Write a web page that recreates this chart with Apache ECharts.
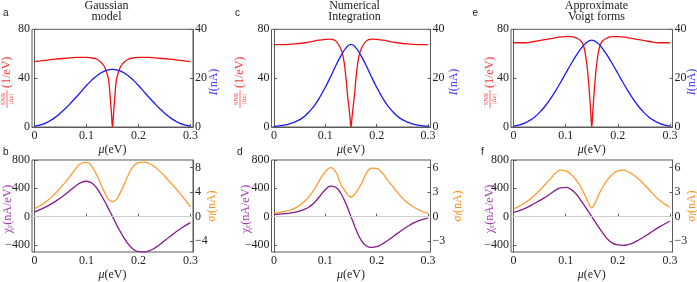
<!DOCTYPE html>
<html>
<head>
<meta charset="utf-8">
<script src="https://cdn.jsdelivr.net/npm/echarts@6/dist/echarts.min.js"></script>
<style>html,body{margin:0;padding:0;background:#fff;}#c{width:697px;height:282px;}</style>
</head>
<body>
<div id="c"></div>
<script>
// ---------- data ----------
const panelTitles = ['Gaussian\nmodel', 'Numerical\nIntegration', 'Approximate\nVoigt forms'];
const panelLetters = ['a', 'b', 'c', 'd', 'e', 'f'];
const xTicks = [0, 0.1, 0.2, 0.3];
const yTopLeftTicks = [0, 40, 80];
const yTopRightTicks = [0, 20, 40];
const yBotLeftTicks = [-400, 0, 400, 800];
const yBotRightTicksB = [-4, 0, 4, 8];
const yBotRightTicksDF = [-3, 0, 3, 6];

// SNR/|Δε| curves (top row, left axis)
const xSnr = [0,0.02,0.04,0.06,0.08,0.10,0.11,0.12,0.13,0.135,0.14,0.143,0.146,0.148,0.15,0.152,0.154,0.157,0.16,0.165,0.17,0.18,0.19,0.20,0.22,0.24,0.26,0.28,0.30];
const snrA = [53.5,54.5,55.5,56.3,57,57,56.5,55.5,52,49,43,37,22,11,0,11,22,37,43,49,52,55.5,56.5,57,57,56.3,55.5,54.5,53.5];
const snrC = [67.5,67.5,68,69,70.5,71.8,72,70.5,64,57,41,27,16,8,0,8,16,27,41,57,64,70.5,72,71.8,70.5,69,68,67.5,67.5];
const snrE = [69,69,70,71.5,73,74,74,73,70,65.5,53,41,25,12.5,0,12.5,25,41,53,65.5,70,73,74,74,73,71.5,70,69,69];

// I (nA) curves (top row, right axis)
const xI = [0,0.01,0.02,0.03,0.04,0.05,0.06,0.07,0.08,0.09,0.10,0.11,0.12,0.13,0.14,0.15,0.16,0.17,0.18,0.19,0.20,0.21,0.22,0.23,0.24,0.25,0.26,0.27,0.28,0.29,0.30];
const iA = [0.4,0.8,1.5,2.6,4.0,5.7,7.7,9.9,12.2,14.6,17.0,19.2,21.0,22.4,23.3,23.6,23.3,22.4,21.0,19.2,17.0,14.6,12.2,9.9,7.7,5.7,4.0,2.6,1.5,0.8,0.4];
const iC = [0.3,0.5,0.8,1.3,2.0,3.0,4.5,6.6,9.2,12.5,16.3,20.5,25,29,32.3,33.8,32.3,29,25,20.5,16.3,12.5,9.2,6.6,4.5,3.0,2.0,1.3,0.8,0.5,0.3];
const iE = [0.4,0.8,1.5,2.6,4.0,6.0,8.4,11.3,14.6,18.2,22.0,25.7,29.2,32.3,34.6,35.6,34.6,32.3,29.2,25.7,22.0,18.2,14.6,11.3,8.4,6.0,4.0,2.6,1.5,0.8,0.4];

// χε (nA/eV) and σI (nA) curves (bottom row)
const xB = [0,0.02,0.04,0.06,0.07,0.08,0.09,0.10,0.11,0.12,0.13,0.14,0.145,0.15,0.155,0.16,0.17,0.18,0.19,0.20,0.21,0.22,0.23,0.24,0.26,0.28,0.30];
const chiB = [66,130,215,320,380,440,485,500,475,400,280,145,72,0,-72,-145,-275,-385,-460,-495,-500,-485,-450,-400,-285,-175,-85];
const sigB = [1.3,2.3,3.8,5.7,6.8,7.9,8.7,8.85,8.2,6.7,4.8,3.1,2.6,2.45,2.6,3.1,4.8,6.7,8.2,8.8,8.9,8.7,8.2,7.5,5.7,3.8,1.6];
const chiD = [30,42,60,105,145,210,295,380,432,415,330,185,95,0,-95,-190,-335,-415,-435,-425,-390,-345,-295,-240,-140,-65,-22];
const sigD = [0.4,0.65,1.0,1.9,2.6,3.5,4.6,5.5,6.0,5.5,4.0,3.0,2.6,2.4,2.6,3.0,4.0,5.3,5.95,5.9,5.4,4.6,3.8,3.0,1.7,0.9,0.4];
const chiF = [60,110,185,270,320,370,405,412,385,320,220,112,56,0,-56,-112,-220,-315,-375,-400,-405,-395,-370,-330,-240,-145,-66];
const sigF = [0.95,1.6,2.6,3.9,4.6,5.3,5.7,5.6,5.2,4.5,3.5,2.2,1.5,1.05,1.5,2.2,3.5,4.5,5.2,5.6,5.7,5.5,5.1,4.6,3.3,2.0,1.15];

// ---------- styling ----------
const SERIF = '"Liberation Serif","DejaVu Serif",serif';
const SANS = '"Liberation Sans","DejaVu Sans",sans-serif';
const FRAME = '#5a5a5a';
const TXT = '#222222';
const RED = '#f21010', BLUE = '#1a1af2', PURPLE = '#861a8c', ORANGE = '#ff9b2f';
const RED_T = '#ff3535', BLUE_T = '#3a3aff', PURPLE_T = '#a53ab2', ORANGE_T = '#ff8c1a';

const cols = [{left: 32, width: 161}, {left: 271.5, width: 159}, {left: 511, width: 161.5}];
const rows = [{top: 29.3, height: 97.7}, {top: 160, height: 98.5}];

const zip = (xs, ys) => xs.map((x, i) => [x, ys[i]]);
const numFmt = v => {
  const r = Math.round(v * 1000) / 1000;
  return (r < 0 ? '\u2212' : '') + String(Math.abs(r));
};

const grids = [], xAxes = [], yAxes = [], series = [];

function addPanel(col, row, left, right) {
  const gi = grids.length;
  grids.push({left: cols[col].left, width: cols[col].width, top: rows[row].top, height: rows[row].height,
    show: true, borderColor: FRAME, borderWidth: 1, containLabel: false});
  xAxes.push({
    type: 'value', gridIndex: gi, min: -0.005, max: 0.305,
    axisLine: {show: true, lineStyle: {color: FRAME, width: 1}},
    axisTick: {show: true, inside: true, length: 3, customValues: xTicks, lineStyle: {color: FRAME}},
    axisLabel: {customValues: xTicks, formatter: numFmt, margin: 3, fontFamily: SERIF, fontSize: 12, color: TXT},
    splitLine: {show: false},
    name: '{i|\u03bc}(eV)', nameLocation: 'middle', nameGap: 17,
    nameTextStyle: {fontFamily: SERIF, fontSize: 12, color: TXT,
      rich: {i: {fontFamily: SERIF, fontSize: 12, fontStyle: 'italic', color: TXT}}}
  });
  const yl = yAxes.length;
  yAxes.push(Object.assign({
    type: 'value', gridIndex: gi, position: 'left',
    axisLine: {show: true, lineStyle: {color: FRAME, width: 1}},
    axisTick: {show: true, inside: true, length: 3, customValues: left.ticks, lineStyle: {color: FRAME}},
    axisLabel: {customValues: left.ticks, formatter: numFmt, margin: 2, fontFamily: SERIF, fontSize: 12, color: TXT},
    splitLine: {show: false}
  }, {min: left.min, max: left.max}));
  yAxes.push(Object.assign({
    type: 'value', gridIndex: gi, position: 'right',
    axisLine: {show: true, lineStyle: {color: FRAME, width: 1}},
    axisTick: {show: true, inside: true, length: 3, customValues: right.ticks, lineStyle: {color: FRAME}},
    axisLabel: {customValues: right.ticks, formatter: numFmt, margin: 2, fontFamily: SERIF, fontSize: 12, color: TXT},
    splitLine: {show: false}
  }, {min: right.min, max: right.max}));
  const sl = {
    type: 'line', xAxisIndex: gi, yAxisIndex: yl, data: zip(left.x, left.y), showSymbol: false,
    smooth: 0.5, lineStyle: {color: left.color, width: 1.3}, itemStyle: {color: left.color}
  };
  if (left.zero) {
    sl.markLine = {silent: true, symbol: 'none', label: {show: false}, animation: false,
      lineStyle: {color: '#cfcfcf', width: 1, type: 'solid'}, data: [{yAxis: 0}]};
  }
  series.push(sl);
  series.push({
    type: 'line', xAxisIndex: gi, yAxisIndex: yl + 1, data: zip(right.x, right.y), showSymbol: false,
    smooth: 0.5, lineStyle: {color: right.color, width: 1.3}, itemStyle: {color: right.color}
  });
}

const topL = {min: 0, max: 80, ticks: yTopLeftTicks, x: xSnr, color: RED};
const topR = {min: 0, max: 40, ticks: yTopRightTicks, x: xI, color: BLUE};
const botL = {min: -500, max: 800, ticks: yBotLeftTicks, x: xB, color: PURPLE, zero: true};
const botRB = {min: -5.769, max: 9.231, ticks: yBotRightTicksB, x: xB, color: ORANGE};
const botRDF = {min: -4.335, max: 6.936, ticks: yBotRightTicksDF, x: xB, color: ORANGE};

addPanel(0, 0, Object.assign({}, topL, {y: snrA}), Object.assign({}, topR, {y: iA}));
addPanel(0, 1, Object.assign({}, botL, {y: chiB}), Object.assign({}, botRB, {y: sigB}));
addPanel(1, 0, Object.assign({}, topL, {y: snrC}), Object.assign({}, topR, {y: iC}));
addPanel(1, 1, Object.assign({}, botL, {y: chiD}), Object.assign({}, botRDF, {y: sigD}));
addPanel(2, 0, Object.assign({}, topL, {y: snrE}), Object.assign({}, topR, {y: iE}));
addPanel(2, 1, Object.assign({}, botL, {y: chiF}), Object.assign({}, botRDF, {y: sigF}));

// ---------- text graphics ----------
function txt(x, y, text, opts) {
  return Object.assign({type: 'text', x: x, y: y, silent: true,
    style: Object.assign({text: text, fill: TXT, font: '12px ' + SERIF, align: 'center', verticalAlign: 'middle',
      textAlign: 'center', textVerticalAlign: 'middle'}, opts || {})});
}
const graphics = [];
const titleX = [106.5, 354.5, 596.5];
panelTitles.forEach((t, i) => graphics.push(txt(titleX[i], 11.5, t, {lineHeight: 11.5, fontSize: 12, fontFamily: SERIF, font: null})));
const letterPos = [[3, 18], [3, 157.5], [235, 18], [237, 157.5], [472.5, 18], [481, 157.5]];
panelLetters.forEach((l, i) => graphics.push(txt(letterPos[i][0], letterPos[i][1], l,
  {font: '10px ' + SANS, align: 'left', textAlign: 'left', verticalAlign: 'bottom', textVerticalAlign: 'bottom'})));

function snrLabel(cx, cy) {
  return {type: 'group', x: cx, y: cy, rotation: Math.PI / 2, silent: true, children: [
    txt(-15, -4.2, 'SNR', {font: '6.5px ' + SERIF, fill: RED_T}),
    {type: 'line', shape: {x1: -24, y1: 0, x2: -6, y2: 0}, style: {stroke: RED_T, lineWidth: 0.7}},
    txt(-15, 4.4, '|\u0394\u03b5|', {font: '6.5px ' + SERIF, fill: RED_T}),
    txt(-4, 0, '(1/eV)', {font: '12px ' + SERIF, fill: RED_T, align: 'left', textAlign: 'left'})
  ]};
}
function richLabel(cx, cy, text, color) {
  return {type: 'text', x: cx, y: cy, rotation: Math.PI / 2, silent: true,
    style: {text: text, fill: color, fontFamily: SERIF, fontSize: 12, align: 'center', verticalAlign: 'middle',
      textAlign: 'center', textVerticalAlign: 'middle',
      rich: {
        m: {fontFamily: SERIF, fontSize: 12, fill: color, color: color},
        i: {fontFamily: SERIF, fontSize: 12, fontStyle: 'italic', fill: color, color: color},
        s: {fontFamily: SERIF, fontSize: 8, fill: color, color: color, verticalAlign: 'bottom'},
        si: {fontFamily: SERIF, fontSize: 8, fontStyle: 'italic', fill: color, color: color, verticalAlign: 'bottom'}
      }}};
}
graphics.push(snrLabel(7, 84), snrLabel(240, 84), snrLabel(490, 84));
const chiText = '{m|\u03c7}{s|\u03b5}{m|(nA/eV)}';
const sigText = '{i|\u03c3}{si|I}{m|(nA)}';
const iText = '{i|I}{m|(nA)}';
graphics.push(richLabel(7.5, 209, chiText, PURPLE_T), richLabel(246, 209, chiText, PURPLE_T), richLabel(490, 209, chiText, PURPLE_T));
graphics.push(richLabel(214, 82, iText, BLUE_T), richLabel(454, 82, iText, BLUE_T), richLabel(692, 82, iText, BLUE_T));
graphics.push(richLabel(212, 206, sigText, ORANGE_T), richLabel(458, 206, sigText, ORANGE_T), richLabel(692, 206, sigText, ORANGE_T));

const chart = echarts.init(document.getElementById('c'), null, {renderer: 'canvas'});
chart.setOption({
  animation: false,
  backgroundColor: '#ffffff',
  grid: grids, xAxis: xAxes, yAxis: yAxes, series: series,
  graphic: {elements: graphics}
});
</script>
</body>
</html>
